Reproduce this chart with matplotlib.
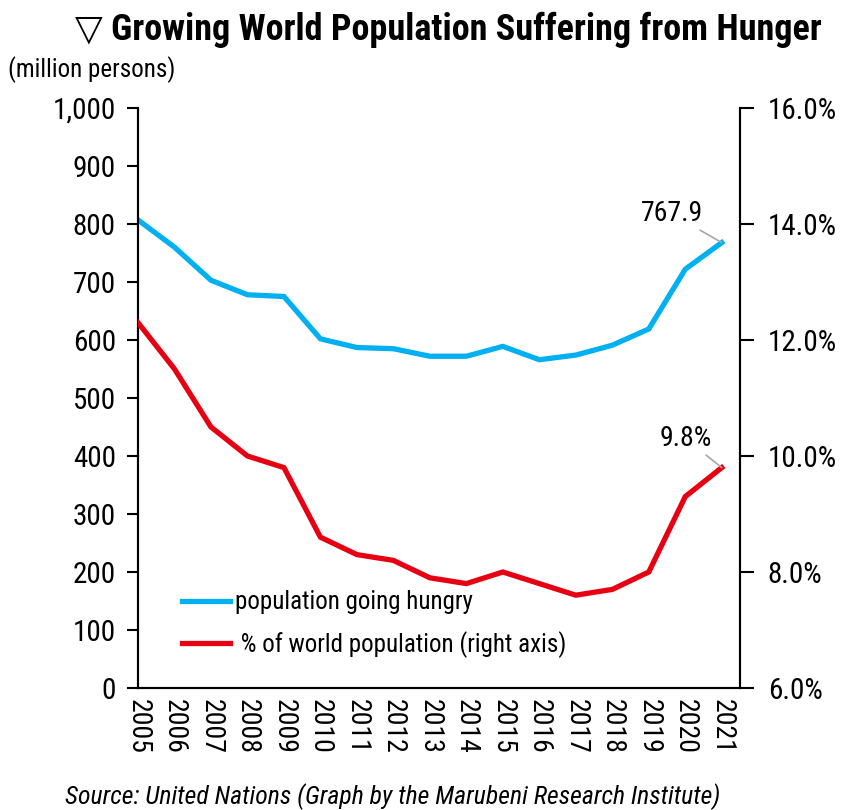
import matplotlib
matplotlib.use("Agg")
import matplotlib.pyplot as plt
from matplotlib.ticker import FuncFormatter

YEARS = [str(y) for y in range(2005, 2022)]
HUNGRY_MILLIONS = [807, 760, 703, 678, 675, 602, 587, 585, 572, 572, 589, 566, 574, 591, 619, 722, 767.9]
HUNGRY_SHARE = [12.3, 11.5, 10.5, 10.0, 9.8, 8.6, 8.3, 8.2, 7.9, 7.8, 8.0, 7.8, 7.6, 7.7, 8.0, 9.3, 9.8]

BLUE = "#00b0f0"
RED = "#e60012"
FONT = ["Roboto Condensed", "Liberation Sans", "DejaVu Sans"]

plt.rcParams["font.family"] = FONT

fig = plt.figure(figsize=(8.45, 8.1), dpi=100)
ax = fig.add_axes([138 / 845, 1 - 688 / 810, (740 - 138) / 845, (688 - 108) / 810])
ax2 = ax.twinx()

x = list(range(len(YEARS)))
l1, = ax.plot(x, HUNGRY_MILLIONS, color=BLUE, lw=3.8, solid_joinstyle="miter",
              label="population going hungry", zorder=3)
l2, = ax2.plot(x, HUNGRY_SHARE, color=RED, lw=3.8, solid_joinstyle="miter",
               label=" % of world population (right axis)", zorder=3)

ax.set_xlim(0, len(YEARS) - 0.5)
ax.set_ylim(0, 1000)
ax2.set_ylim(6, 16)
ax.set_yticks(range(0, 1001, 100))
ax2.set_yticks([6, 8, 10, 12, 14, 16])
ax.yaxis.set_major_formatter(FuncFormatter(lambda v, _: f"{v:,.0f}"))
ax2.yaxis.set_major_formatter(FuncFormatter(lambda v, _: f"{v:.1f}%"))
ax.set_xticks(x)
ax.set_xticklabels(YEARS, rotation=-90, fontsize=20)

for a in (ax, ax2):
    a.spines["top"].set_visible(False)
    for s in a.spines.values():
        s.set_linewidth(1.5)
ax.tick_params(axis="y", direction="out", length=8, width=1.5, labelsize=21, pad=8)
ax2.tick_params(axis="y", direction="out", length=10, width=1.5, labelsize=21, pad=10)
ax.tick_params(axis="x", length=0, pad=8)

ax.annotate(f"{HUNGRY_MILLIONS[-1]:.1f}", xy=(x[-1], HUNGRY_MILLIONS[-1]), xytext=(-36, 11),
            textcoords="offset points", ha="center", va="bottom", fontsize=20,
            arrowprops=dict(arrowstyle="-", color="#a6a6a6", lw=1.2, shrinkA=0, shrinkB=0))
ax2.annotate(f"{HUNGRY_SHARE[-1]:.1f}%", xy=(x[-1], HUNGRY_SHARE[-1]), xytext=(-26, 11),
             textcoords="offset points", ha="center", va="bottom", fontsize=20,
             arrowprops=dict(arrowstyle="-", color="#a6a6a6", lw=1.2, shrinkA=0, shrinkB=0))

fig.legend(handles=[l1, l2], loc="upper left", bbox_to_anchor=(160 / 845, 1 - 568 / 810),
           frameon=False, fontsize=18, handlelength=1.9, handletextpad=0.2, labelspacing=0.65)

fig.text(448 / 845, 1 - 30 / 810, "▽ Growing World Population Suffering from Hunger",
         ha="center", va="center", fontsize=26, fontweight="bold")
fig.text(8 / 845, 1 - 70 / 810, "(million persons)", ha="left", va="center", fontsize=18)
fig.text(65 / 845, 1 - 797 / 810, "Source: United Nations (Graph by the Marubeni Research Institute)",
         ha="left", va="center", fontsize=18.5, style="italic")

fig.savefig("out.png", dpi=100)
